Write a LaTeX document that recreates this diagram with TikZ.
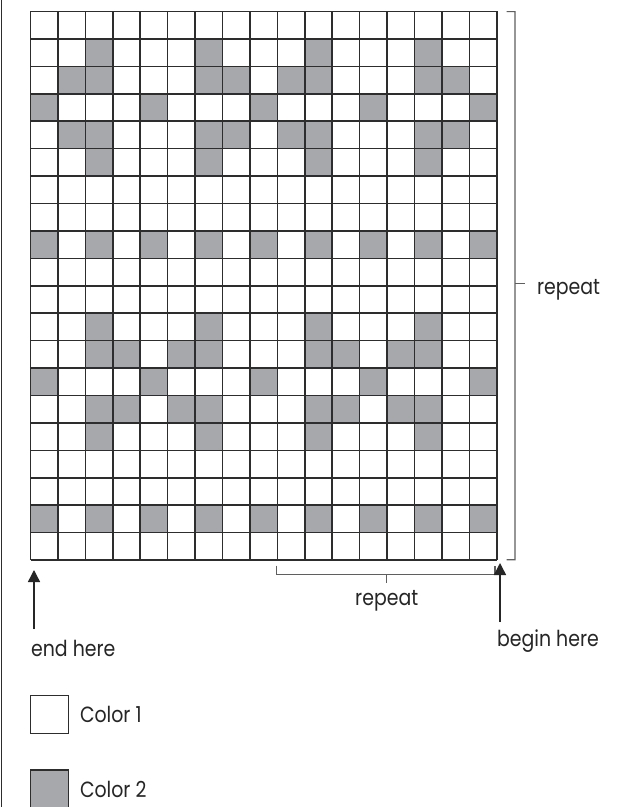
\documentclass[tikz,border=0pt]{standalone}
\usepackage{fontspec}
\setmainfont[FakeStretch=0.86]{Poppins}
\usetikzlibrary{arrows.meta,positioning}
\definecolor{cellgray}{RGB}{167,168,171}
\definecolor{gridline}{RGB}{45,45,45}
\definecolor{bracketgray}{RGB}{95,95,95}
\tikzset{
  gridrule/.style={draw=gridline, line width=0.75pt},
  bracket/.style={draw=bracketgray, line width=0.55pt},
  pointer/.style={-{Triangle[length=6pt,width=6pt]}, line width=0.7pt, draw=black!85, fill=black!85},
  note/.style={font=\fontsize{11}{13}\selectfont, text=black!85, inner sep=0pt},
  swatch/.style={draw=gridline, line width=0.6pt, minimum width=19pt, minimum height=19pt, inner sep=0pt}
}

\begin{document}
\begin{tikzpicture}[x=0.5pt, y=-0.5pt]
  \clip (0,0) rectangle (622,807);
  \fill[white] (0,0) rectangle (622,807);
  \draw[gridrule] (1.7,0) -- (1.7,807);

  % chart: 17 stitches by 20 rows
  \begin{scope}[shift={(30.5,11.5)}, x=13.715pt, y=-13.715pt]
    \foreach \r/\cols in {2/{3,7,11,15}, 3/{2,3,7,8,10,11,15,16}, 4/{1,5,9,13,17},
        5/{2,3,7,8,10,11,15,16}, 6/{3,7,11,15}, 9/{1,3,5,7,9,11,13,15,17},
        12/{3,7,11,15}, 13/{3,4,6,7,11,12,14,15}, 14/{1,5,9,13,17},
        15/{3,4,6,7,11,12,14,15}, 16/{3,7,11,15}, 19/{1,3,5,7,9,11,13,15,17}}
      \foreach \c in \cols
        \fill[cellgray] (\c-1,\r-1) rectangle (\c,\r);
    \foreach \i in {0,...,17}
      \draw[gridrule] (\i,0) -- (\i,20);
    \foreach \j in {0,...,20}
      \draw[gridrule] (0,\j) -- (17,\j);
  \end{scope}

  % row repeat
  \coordinate (rtop) at (506.7,11.7);
  \coordinate (rbot) at (506.7,559.7);
  \coordinate (rtick) at (515,283.3);
  \draw[bracket] (rtop) -- ++(8.3,0) -- (515,559.7) -- (rbot);
  \draw[bracket] (rtick) -- ++(10,0);
  \node[note, anchor=base west] (reprow) at (536.7,295) {repeat};

  % stitch repeat
  \coordinate (sleft) at (276.7,565.7);
  \coordinate (sright) at (495,565.7);
  \coordinate (stick) at (386.7,574.3);
  \draw[bracket] (sleft) -- (276.7,574.3) -- (495,574.3) -- (sright);
  \draw[bracket] (stick) -- ++(0,8.7);
  \node[note, anchor=north] (repst) at (386.7,590) {repeat};

  % start and finish
  \node[note, anchor=base west] (endtxt) at (30.7,656.7) {end here};
  \node[note, anchor=base west] (begtxt) at (496.7,646.7) {begin here};
  \coordinate (endtail) at (34,629);
  \coordinate (endtip) at (34,570);
  \coordinate (begtail) at (500,622);
  \coordinate (begtip) at (500,563);
  \draw[pointer] (endtail) -- (endtip);
  \draw[pointer] (begtail) -- (begtip);

  % key
  \node[swatch, fill=white] (col1) at (49.3,714.5) {};
  \node[swatch, fill=cellgray] (col2) at (49.3,789) {};
  \node[note, right=5.35pt of col1] (col1txt) {Color 1};
  \node[note, right=5.35pt of col2] (col2txt) {Color 2};
\end{tikzpicture}
\end{document}
